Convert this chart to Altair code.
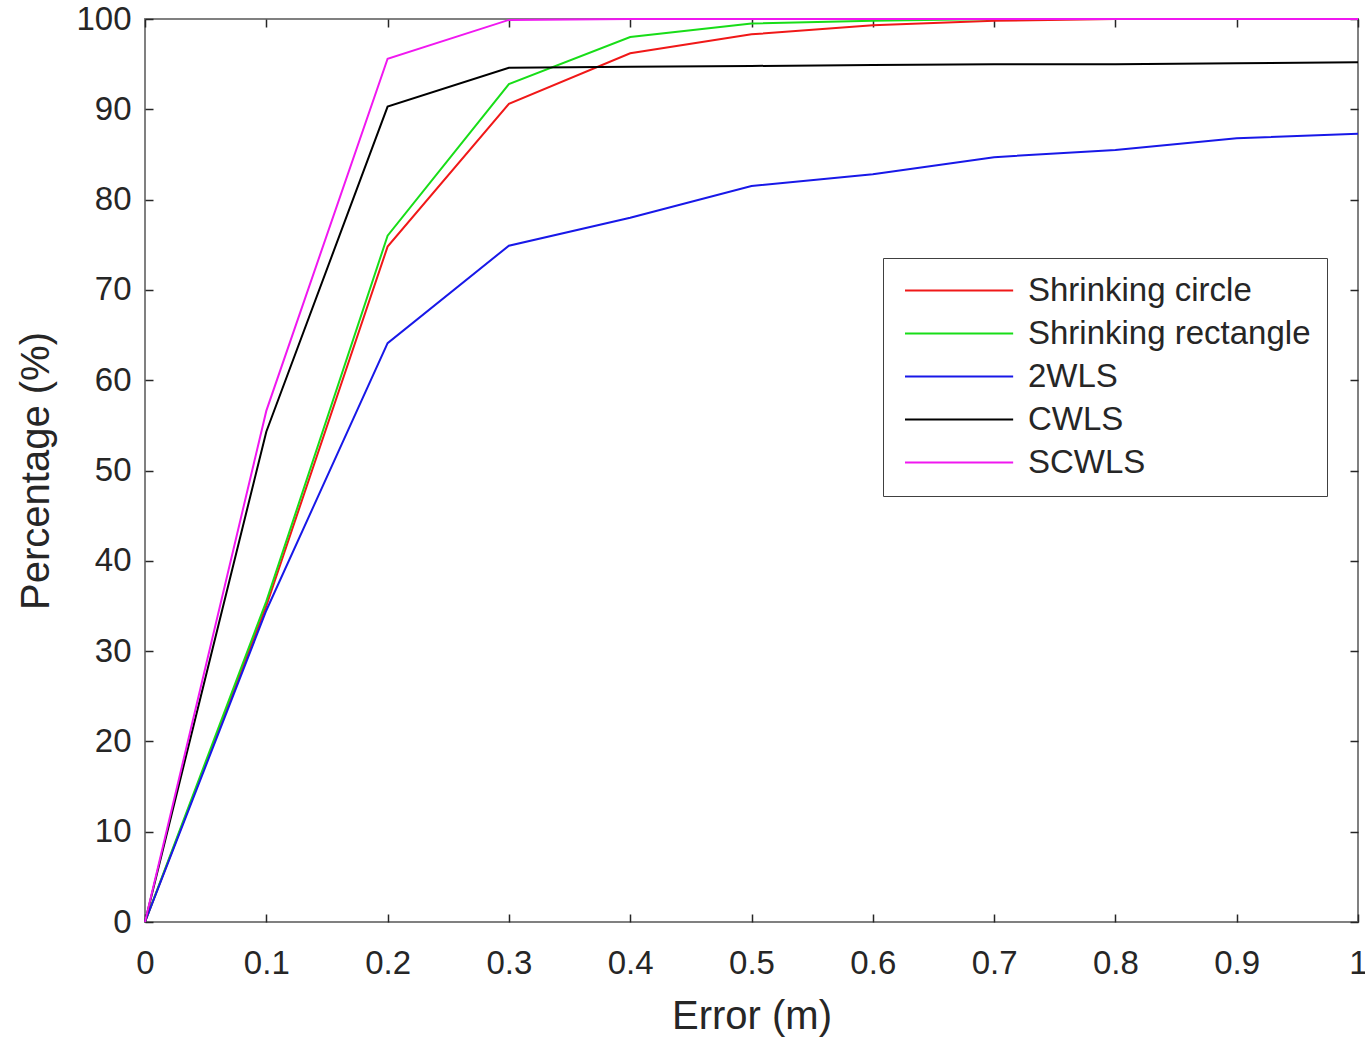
import altair as alt
import pandas as pd

# ---- data ----
errors = [0.0, 0.1, 0.2, 0.3, 0.4, 0.5, 0.6, 0.7, 0.8, 0.9, 1.0]
series_names = ["Shrinking circle", "Shrinking rectangle", "2WLS", "CWLS", "SCWLS"]
shrinking_circle = [0, 35.0, 74.8, 90.6, 96.2, 98.3, 99.3, 99.8, 100, 100, 100]
shrinking_rectangle = [0, 35.5, 76.0, 92.8, 98.0, 99.5, 99.8, 100, 100, 100, 100]
wls2 = [0, 34.5, 64.1, 74.9, 78.0, 81.5, 82.8, 84.7, 85.5, 86.8, 87.3]
cwls = [0, 54.3, 90.3, 94.6, 94.7, 94.8, 94.9, 95.0, 95.0, 95.1, 95.2]
scwls = [0, 56.6, 95.6, 99.9, 100, 100, 100, 100, 100, 100, 100]
series_colors = ["#f01818", "#18dd18", "#1818e8", "#000000", "#f018f0"]
x_ticks = [0, 0.1, 0.2, 0.3, 0.4, 0.5, 0.6, 0.7, 0.8, 0.9, 1.0]
y_ticks = [0, 10, 20, 30, 40, 50, 60, 70, 80, 90, 100]

values = [shrinking_circle, shrinking_rectangle, wls2, cwls, scwls]
rows = []
for k, (name, vals) in enumerate(zip(series_names, values)):
    for e, v in zip(errors, vals):
        rows.append({"error": e, "pct": v, "series": name, "order": k})
df = pd.DataFrame(rows)

FONT = "Liberation Sans"
TXT = "#262626"
TICK = 8

xscale = alt.Scale(domain=[0, 1], nice=False, zero=False)
yscale = alt.Scale(domain=[0, 100], nice=False)

bottom_axis = alt.Axis(
    orient="bottom", values=x_ticks, format="~g", offset=-TICK, tickSize=TICK,
    domain=False, grid=False, tickColor=TXT, tickWidth=1.5, labelPadding=25,
    labelFontSize=33, labelFont=FONT, labelColor=TXT, title="Error (m)",
    titleFont=FONT, titleFontSize=40, titleFontWeight="normal", titleColor=TXT,
    titlePadding=16, labelFlush=False,
)
left_axis = alt.Axis(
    orient="left", values=y_ticks, offset=-TICK, tickSize=TICK,
    domain=False, grid=False, tickColor=TXT, tickWidth=1.5, labelPadding=14,
    labelFontSize=33, labelFont=FONT, labelColor=TXT, title="Percentage (%)",
    titleFont=FONT, titleFontSize=40, titleFontWeight="normal", titleColor=TXT,
    titlePadding=19, labelFlush=False,
)
top_axis = alt.Axis(
    orient="top", values=x_ticks, offset=-TICK, tickSize=TICK, domain=False,
    grid=False, labels=False, title=None, tickColor=TXT, tickWidth=1.5,
)
right_axis = alt.Axis(
    orient="right", values=y_ticks, offset=-TICK, tickSize=TICK, domain=False,
    grid=False, labels=False, title=None, tickColor=TXT, tickWidth=1.5,
)

color = alt.Color(
    "series:N",
    scale=alt.Scale(domain=series_names, range=series_colors),
    legend=alt.Legend(
        title=None, orient="none", legendX=738, legendY=239,
        symbolType="M-1,0H9.3", symbolSize=441, symbolStrokeWidth=2,
        labelFont=FONT, labelFontSize=33, labelColor=TXT, labelOffset=96,
        rowPadding=9, padding=16, strokeColor="#404040", fillColor="white",
        labelLimit=600,
    ),
)

lines = alt.Chart(df).mark_line(strokeWidth=2).encode(
    x=alt.X("error:Q", scale=xscale, axis=bottom_axis),
    y=alt.Y("pct:Q", scale=yscale, axis=left_axis),
    color=color,
    order="error:Q",
    detail="series:N",
)

mirror = alt.Chart(df).mark_line(opacity=0).encode(
    x=alt.X("error:Q", scale=xscale, axis=top_axis),
    y=alt.Y("pct:Q", scale=yscale, axis=right_axis),
    detail="series:N",
)

chart = (
    alt.layer(lines, mirror)
    .resolve_axis(x="independent", y="independent")
    .properties(
        width=1213, height=903,
        autosize=alt.AutoSizeParams(type="none"),
        padding={"left": 145, "top": 19, "right": 7, "bottom": 116},
        background="white",
    )
    .configure_view(stroke="#808080", strokeWidth=2)
)

chart.save("out.html", embed_options={"renderer": "svg", "actions": False})
